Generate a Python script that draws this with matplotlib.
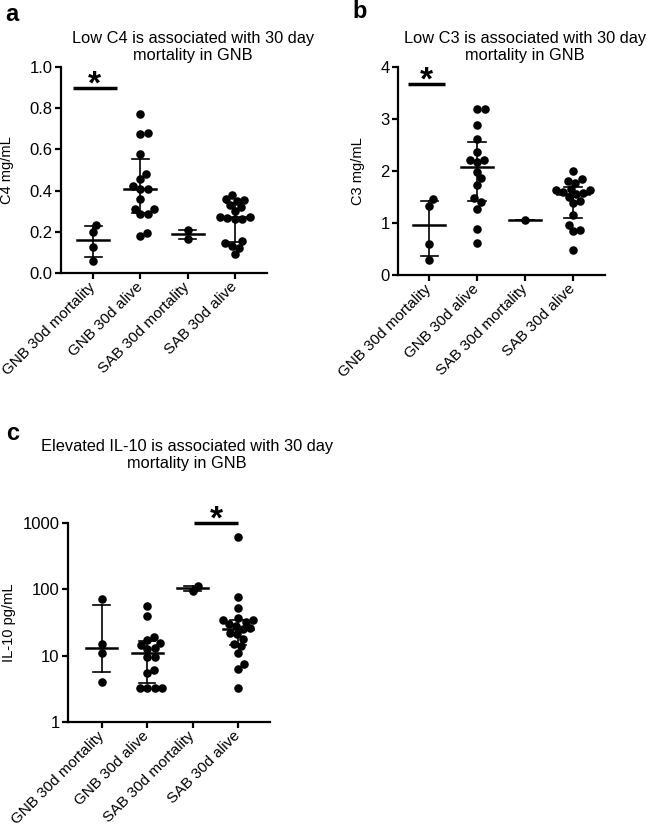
import matplotlib
matplotlib.use('Agg')
import matplotlib.pyplot as plt
import numpy as np

plt.rcParams['font.family'] = ['Liberation Sans', 'DejaVu Sans']

groups = ['GNB 30d mortality', 'GNB 30d alive', 'SAB 30d mortality', 'SAB 30d alive']

# panel a - C4 (mg/mL)
c4_gnb_mort = [0.06, 0.125, 0.20, 0.235]
c4_gnb_alive = [0.18, 0.195, 0.286, 0.286, 0.31, 0.31, 0.358, 0.41, 0.41, 0.424,
                0.456, 0.48, 0.58, 0.675, 0.68, 0.77]
c4_sab_mort = [0.165, 0.21]
c4_sab_alive = [0.09, 0.12, 0.13, 0.145, 0.155, 0.26, 0.26, 0.265, 0.27, 0.27,
                0.30, 0.32, 0.33, 0.35, 0.355, 0.36, 0.38]

# panel b - C3 (mg/mL)
c3_gnb_mort = [0.29, 0.59, 1.33, 1.46]
c3_gnb_alive = [0.61, 0.88, 1.28, 1.41, 1.49, 1.74, 1.86, 1.99, 2.18, 2.22,
                2.22, 2.37, 2.61, 2.885, 3.19, 3.19]
c3_sab_mort = [1.05]
c3_sab_alive = [0.49, 0.84, 0.86, 0.96, 1.15, 1.38, 1.42, 1.50, 1.55, 1.57,
                1.60, 1.63, 1.64, 1.66, 1.78, 1.81, 1.84, 2.0]

# panel c - IL-10 (pg/mL)
il10_gnb_mort = [3.97, 10.9, 14.8, 71.6]
il10_gnb_alive = [3.3, 3.3, 3.3, 3.3, 5.5, 6.0, 9.5, 9.5, 12.5, 13.0,
                  14.5, 15.5, 17.0, 19.0, 40.0, 56.0]
il10_sab_mort = [94.0, 112.0]
il10_sab_alive = [3.3, 6.3, 7.5, 11.0, 14.0, 15.0, 18.0, 21.0, 22.0, 25.0,
                  26.0, 28.0, 30.0, 32.0, 34.0, 35.0, 37.0, 52.0, 76.0, 610.0]


def swarm(ax, xc, vals, diam):
    # simple beeswarm in pixel space
    pts = ax.transData.transform(np.column_stack([np.full(len(vals), xc), vals]))
    x0 = pts[0, 0]
    ys = pts[:, 1]
    placed = []
    xs = np.zeros(len(vals))
    for i in np.argsort(ys):
        y = ys[i]
        cands = [x0]
        for (px, py) in placed:
            dy = abs(py - y)
            if dy < diam:
                dx = np.sqrt(diam ** 2 - dy ** 2)
                cands += [px + dx, px - dx]
        cands.sort(key=lambda c: abs(c - x0))
        for c in cands:
            if all((c - px) ** 2 + (y - py) ** 2 >= diam ** 2 - 1e-6 for px, py in placed):
                xs[i] = c
                break
        placed.append((xs[i], y))
    return ax.transData.inverted().transform(np.column_stack([xs, ys]))[:, 0]


def panel(rect, data, ylim, yticks, ylabel, labx, xlim, log=False, yfmt=None):
    ax = fig.add_axes(rect)
    if log:
        ax.set_yscale('log')
    ax.set_xlim(*xlim)
    ax.set_ylim(*ylim)
    ax.set_yticks(yticks)
    ax.minorticks_off()
    if yfmt:
        ax.set_yticklabels([yfmt % t for t in yticks])
    else:
        ax.set_yticklabels([str(t) for t in yticks])
    ax.set_xticks(range(len(groups)))
    ax.set_xticklabels(groups, rotation=45, ha='right', rotation_mode='anchor', va='center')
    for s in ['top', 'right']:
        ax.spines[s].set_visible(False)
    for s in ['left', 'bottom']:
        ax.spines[s].set_linewidth(1.6)
    ax.tick_params(axis='both', width=1.6, length=4.5, pad=1.5)
    ax.tick_params(axis='y', labelsize=12)
    ax.tick_params(axis='x', labelsize=11, pad=4)
    ax.set_ylabel(ylabel, fontsize=10.5)
    ax.yaxis.set_label_coords(labx, 0.5)
    for i, vals in enumerate(data):
        vals = np.asarray(vals, dtype=float)
        xs = swarm(ax, i, vals, 7.6)
        ax.scatter(xs, vals, s=38, color='black', zorder=3, linewidths=0)
        q1, med, q3 = np.percentile(vals, [25, 50, 75], method='weibull')
        ax.plot([i - 0.34, i + 0.34], [med, med], color='black', lw=1.8, zorder=4)
        ax.plot([i, i], [q1, q3], color='black', lw=1.2, zorder=4)
        ax.plot([i - 0.18, i + 0.18], [q1, q1], color='black', lw=1.2, zorder=4)
        ax.plot([i - 0.18, i + 0.18], [q3, q3], color='black', lw=1.2, zorder=4)
    return ax


def star(ax, x1, x2, y):
    ax.plot([x1, x2], [y, y], color='black', lw=2.5, clip_on=False, solid_capstyle='butt')
    ax.annotate('*', xy=((x1 + x2) / 2, y), xytext=(0, -4), textcoords='offset points',
                ha='center', va='baseline', fontsize=24, fontweight='bold', annotation_clip=False)


fig = plt.figure(figsize=(6.49, 8.26), dpi=100)

ax_a = panel([0.094, 0.6695, 0.3174, 0.2494],
             [c4_gnb_mort, c4_gnb_alive, c4_sab_mort, c4_sab_alive],
             (0, 1.0), [0, 0.2, 0.4, 0.6, 0.8, 1.0], 'C4 mg/mL', -0.23, (-0.68, 3.68), yfmt='%.1f')
star(ax_a, -0.43, 0.5, 0.9)

ax_b = panel([0.6133, 0.667, 0.319, 0.2518],
             [c3_gnb_mort, c3_gnb_alive, c3_sab_mort, c3_sab_alive],
             (0, 4), [0, 1, 2, 3, 4], 'C3 mg/mL', -0.16, (-0.65, 3.67))
star(ax_b, -0.44, 0.33, 3.67)

ax_c = panel([0.1048, 0.1259, 0.311, 0.2409],
             [il10_gnb_mort, il10_gnb_alive, il10_sab_mort, il10_sab_alive],
             (1, 1000), [1, 10, 100, 1000], 'IL-10 pg/mL', -0.26, (-0.74, 3.7), log=True)
star(ax_c, 2.03, 3.0, 1000)

fig.text(193 / 649, 1 - 31 / 826, 'Low C4 is associated with 30 day\nmortality in GNB',
         ha='center', va='top', fontsize=11.8, linespacing=1.15)
fig.text(525 / 649, 1 - 31 / 826, 'Low C3 is associated with 30 day\nmortality in GNB',
         ha='center', va='top', fontsize=11.8, linespacing=1.15)
fig.text(187 / 649, 1 - 439 / 826, 'Elevated IL-10 is associated with 30 day\nmortality in GNB',
         ha='center', va='top', fontsize=11.8, linespacing=1.15)

fig.text(5 / 649, 1 - 3 / 826, 'a', ha='left', va='top', fontsize=17, fontweight='bold')
fig.text(352 / 649, 1 - 0 / 826, 'b', ha='left', va='top', fontsize=17, fontweight='bold')
fig.text(6 / 649, 1 - 422 / 826, 'c', ha='left', va='top', fontsize=17, fontweight='bold')

fig.savefig('out.png', dpi=100)
